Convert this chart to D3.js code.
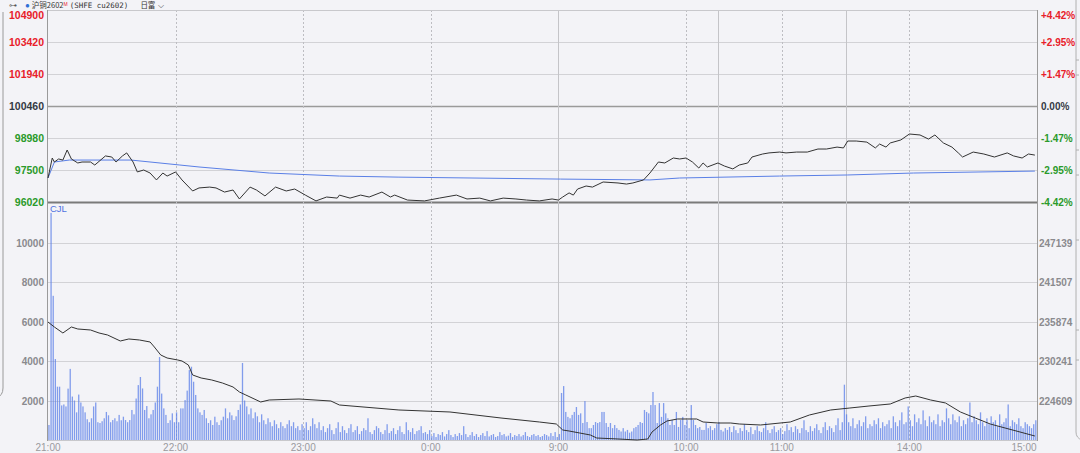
<!DOCTYPE html>
<html><head><meta charset="utf-8">
<script src="https://cdn.jsdelivr.net/npm/d3@7"></script>
<style>
html,body{margin:0;padding:0;background:#f3f3f7;}
svg{display:block;}
text{font-family:"Liberation Sans",Arial,sans-serif;}
</style></head>
<body>
<script>
// ---------- DATA ----------
const priceTicks = [104900,103420,101940,100460,98980,97500,96020];
const pctLabels = ["+4.42%","+2.95%","+1.47%","0.00%","-1.47%","-2.95%","-4.42%"];
const volTicks = [2000,4000,6000,8000,10000];
const oiTicks = [224609,230241,235874,241507,247139];
const timeLabels = ["21:00","22:00","23:00","0:00","9:00","10:00","11:00","14:00","15:00"];
const timeIdx = [0,60,120,180,240,300,345,405,465];
const gridDashed = [60,120,180,300,345,405];
const gridSolid = [240,315,375];

// price line: minute index and price
const priceMin = [0,2,3,5,7,9,11,14,16,20,22,27,30,32,35,37,40,42,45,48,51,54,56,60,63,68,71,76,79,83,87,90,95,98,102,107,112,116,121,126,131,136,137,142,147,151,157,161,163,169,177,184,192,197,203,208,214,220,225,231,237,240,242,245,247,249,253,256,261,268,272,275,280,283,287,290,294,297,300,303,306,308,310,315,318,322,325,329,331,336,339,344,347,352,357,362,366,371,374,376,380,385,389,391,394,396,401,405,410,414,417,421,425,428,430,435,440,445,451,454,458,461,464];
const priceVal = [97130,98055,97870,98010,97960,98425,98010,97825,97870,97870,97730,98150,98100,97870,98150,98290,97870,97410,97500,97360,97040,97360,97220,97410,97040,96530,96670,96710,96670,96480,96575,96160,96710,96575,96300,96710,96530,96620,96340,96070,96250,96200,96340,96200,96340,96250,96480,96250,96340,96110,96070,96200,96340,96160,96200,96070,96200,96160,96110,96070,96160,96110,96250,96440,96340,96620,96760,96710,96945,96900,96850,96900,97040,97360,97870,97825,98055,98010,98055,97870,97590,97825,97640,97825,97685,97550,97730,97825,98100,98240,98290,98330,98290,98330,98330,98470,98470,98560,98520,98840,98840,98790,98520,98700,98560,98750,98890,99165,99120,98930,99120,98750,98560,98290,98100,98330,98240,98100,98290,98150,98055,98240,98190];

// average price line
const avgMin = [0,3,10,39,62,71,104,137,165,241,283,297,344,376,407,464];
const avgVal = [97130,97870,97960,97960,97730,97640,97360,97220,97170,97080,97040,97130,97220,97270,97360,97450];

// open interest line
const oiMin = [0,3,7,11,14,20,24,28,34,38,43,48,50,53,56,61,63,66,68,72,77,82,87,90,93,100,104,118,133,137,165,189,213,231,239,242,245,250,255,258,268,277,282,284,288,291,296,300,305,308,315,321,325,335,349,358,368,377,386,396,403,408,415,422,429,436,443,450,457,464];
const oiVal = [235800,235090,234235,235090,234806,234663,234235,233950,233094,233380,233237,232952,232239,231098,230670,230385,230242,229672,228246,227818,227533,227105,226535,225822,225394,224396,224681,224824,224538,223968,223255,222970,222114,221544,221259,220403,220260,219975,219690,219262,219120,218977,219120,220118,221116,221686,221972,221972,221972,221544,221401,221401,221259,221116,221544,222542,223255,223540,223825,224111,224966,225251,224681,224253,222970,222114,221259,220688,220118,219547];

// volume per minute, by session
const volNight1 = [760,11500,7300,4100,2700,2700,1750,1800,1700,2600,3600,2200,2000,1400,2300,1900,1700,1400,1050,900,1100,1700,1900,900,860,950,1100,1420,1250,900,1010,1100,950,1270,1000,1180,1010,900,1010,1520,1300,2100,2780,3190,2610,1520,1720,1100,1300,1520,1900,2700,4200,2350,1600,1270,860,1000,1350,900];
const volNight2 = [1400,900,1600,1600,2020,2500,3540,3710,2950,2280,1600,1400,1270,1520,1100,860,1000,760,1180,900,760,1000,1180,1600,1100,1400,1250,1010,1200,1520,1800,3900,2000,1700,1300,1600,1100,1400,1200,900,1300,1000,800,1100,900,700,1000,800,600,900,700,600,800,1000,700,900,600,700,500,800];
const volNight3 = [600,900,500,700,1100,800,600,900,500,700,400,600,800,500,300,600,900,400,700,500,350,600,800,400,500,700,300,450,600,500,1100,400,300,500,700,600,400,300,500,800,350,450,600,300,500,700,400,300,900,500,400,600,300,450,500,700,350,400,300,500];
const volNight4 = [200,350,150,300,250,400,180,300,500,250,150,300,200,350,250,700,300,150,250,400,200,300,150,250,350,200,450,180,250,300,150,200,400,250,300,180,220,350,150,250,200,300,180,250,400,200,150,250,300,200,250,150,200,300,250,180,350,200,400,150];
const volMorning1 = [300,2380,2730,1420,1170,1100,1270,1420,1670,1270,1350,860,1970,910,600,600,760,910,860,910,1420,1420,860,660,860,600,760,600,510,430,600,430,510,370,430,600,660,760,910,860,1520,1420,1350,1770,2430,1770,860,1870,1170,1870,1350,1100,760,1010,760,1420,660,1010,1170,760,1010,600,1770,1010,760,600,660,510,510,860,600,700,500,600,800];
const volMorning2 = [910,510,430,600,510,660,400,700,500,350,600,450,800,500,400,650,300,500,700,450,400,600,900,500,350,550,700,400,500,600,300,450,800,500,650,400,700,550,350,600,1000,500,400,700,450,600,800,500,350,650,900,500,700,600,400,750,1100,500,900,2800];
const volAfternoon = [1300,900,700,1100,600,800,1000,700,900,1200,600,800,700,1000,800,1100,600,900,700,800,1000,600,1200,900,700,1000,1400,800,900,1700,1000,700,1300,900,1100,800,1500,1000,700,1200,900,1000,800,1300,700,1000,900,1600,1100,800,1300,1000,900,1200,700,1000,800,1100,1900,900,1200,1000,800,1400,900,700,1100,800,1200,900,1000,700,1300,800,900,1100,1800,700,1000,900,800,1100,700,600,900,800,700,600,800,1000];

// ---------- CHART ----------
const W = 1080, H = 453;
const L = 48, R = 1037, T = 10, MID = 202, B = 440;
const svg = d3.select("body").append("svg").attr("width", W).attr("height", H);
svg.append("rect").attr("width", W).attr("height", H).attr("fill", "#f3f3f7");

const x = d3.scaleLinear().domain([0, 465]).range([L, R]);
const yP = d3.scaleLinear().domain([96020, 104900]).range([MID, T]);
const yV = d3.scaleLinear().domain([0, 10000]).range([B, 242.5]);
const yO = d3.scaleLinear().domain([218977, 247139]).range([B, 242.5]);

const volumes = [].concat(volNight1, volNight2, volNight3, volNight4, volMorning1, volMorning2, volAfternoon);

// UI decorations at edges
svg.append("path").attr("d", "M3,12 L3,388 Q3,396 -4,398").attr("fill","none").attr("stroke","#9a9a9a").attr("stroke-width",1);
svg.append("path").attr("d", "M1076,0 L1076,432 Q1076,438 1082,440").attr("fill","none").attr("stroke","#b0b0b0").attr("stroke-width",1);
[60,75,150,175,240,330,360].forEach(v=>{
  svg.append("line").attr("x1",1076).attr("x2",1079).attr("y1",v).attr("y2",v).attr("stroke","#b0b0b0");
});

// horizontal grid - price
const gP = svg.append("g");
gP.selectAll("line").data(priceTicks).join("line")
  .attr("x1", L).attr("x2", R)
  .attr("y1", d => Math.round(yP(d)) + 0.5).attr("y2", d => Math.round(yP(d)) + 0.5)
  .attr("stroke", d => d === 100460 ? "#9a9a9a" : (d === 96020 ? "#7a7a7a" : "#d2d2d6"))
  .attr("stroke-width", d => d === 100460 ? 1.5 : (d === 96020 ? 2 : 1));

// horizontal grid - volume
svg.append("g").selectAll("line").data(volTicks).join("line")
  .attr("x1", L).attr("x2", R)
  .attr("y1", d => Math.round(yV(d)) + 0.5).attr("y2", d => Math.round(yV(d)) + 0.5)
  .attr("stroke", "#d2d2d6");

// vertical grid
svg.append("g").selectAll("line").data(gridDashed).join("line")
  .attr("x1", d => Math.round(x(d)) + 0.5).attr("x2", d => Math.round(x(d)) + 0.5)
  .attr("y1", T).attr("y2", B)
  .attr("stroke", "#bdbdc2").attr("stroke-dasharray", "2,2");
svg.append("g").selectAll("line").data(gridSolid).join("line")
  .attr("x1", d => Math.round(x(d)) + 0.5).attr("x2", d => Math.round(x(d)) + 0.5)
  .attr("y1", T).attr("y2", B)
  .attr("stroke", "#c4c4c8");

// frame
svg.append("line").attr("x1", L).attr("x2", R).attr("y1", T+0.5).attr("y2", T+0.5).attr("stroke", "#c8c8cc");
svg.append("line").attr("x1", L-0.5).attr("x2", L-0.5).attr("y1", T).attr("y2", B+1).attr("stroke", "#9a9a9a");
svg.append("line").attr("x1", R+0.5).attr("x2", R+0.5).attr("y1", T).attr("y2", B+1).attr("stroke", "#9a9a9a");
svg.append("line").attr("x1", L).attr("x2", R).attr("y1", B+0.5).attr("y2", B+0.5).attr("stroke", "#c8c8cc");

// volume bars
svg.append("g").selectAll("rect").data(volumes).join("rect")
  .attr("x", (d, i) => x(i) + 0.3)
  .attr("width", 1.3)
  .attr("y", d => yV(d))
  .attr("height", d => B - yV(d))
  .attr("fill", "#5b7fe8")
  .attr("opacity", 0.75);

// open interest line
const oiPts = oiMin.map((m, i) => [m, oiVal[i]]);
svg.append("path").datum(oiPts)
  .attr("d", d3.line().x(d => x(d[0])).y(d => yO(d[1])))
  .attr("fill", "none").attr("stroke", "#333").attr("stroke-width", 1);

// average line
const avgPts = avgMin.map((m, i) => [m, avgVal[i]]);
svg.append("path").datum(avgPts)
  .attr("d", d3.line().x(d => x(d[0])).y(d => yP(d[1])))
  .attr("fill", "none").attr("stroke", "#5a7fe6").attr("stroke-width", 1);

// price line
const pPts = priceMin.map((m, i) => [m, priceVal[i]]);
svg.append("path").datum(pPts)
  .attr("d", d3.line().x(d => x(d[0])).y(d => yP(d[1])))
  .attr("fill", "none").attr("stroke", "#333").attr("stroke-width", 1);

// left price labels
const colP = d => d > 100460 ? "#e8202a" : (d < 100460 ? "#2a9a2a" : "#333a44");
svg.append("g").selectAll("text").data(priceTicks).join("text")
  .attr("x", 44).attr("y", d => Math.max(yP(d), 15) + 4)
  .attr("text-anchor", "end").attr("font-size", 10.5).attr("font-weight", "bold")
  .attr("fill", colP).text(d => d);

// right percent labels
svg.append("g").selectAll("text").data(priceTicks).join("text")
  .attr("x", 1041).attr("y", (d, i) => Math.max(yP(d), 15) + 4)
  .attr("font-size", 10).attr("font-weight", "bold")
  .attr("fill", colP).text((d, i) => pctLabels[i]);

// volume labels
svg.append("g").selectAll("text").data(volTicks).join("text")
  .attr("x", 44).attr("y", d => yV(d) + 4)
  .attr("text-anchor", "end").attr("font-size", 10).attr("font-weight", "bold")
  .attr("fill", "#8a8a8e").text(d => d);

// OI labels
svg.append("g").selectAll("text").data(oiTicks).join("text")
  .attr("x", 1039).attr("y", d => yO(d) + 4)
  .attr("font-size", 10).attr("font-weight", "bold")
  .attr("fill", "#8a8a8e").text(d => d);

// time labels
svg.append("g").selectAll("text").data(timeLabels).join("text")
  .attr("x", (d, i) => Math.min(Math.max(x(timeIdx[i]), 44), 1024))
  .attr("y", 451)
  .attr("text-anchor", "middle").attr("font-size", 10)
  .attr("fill", "#9a9a9e").text(d => d);

// CJL label
svg.append("text").attr("x", 50).attr("y", 212).attr("font-size", 9.5)
  .attr("fill", "#4f72e0").text("CJL");

// header
const hdr = svg.append("text").attr("x", 9).attr("y", 8).attr("font-size", 8).attr("fill", "#333");
hdr.append("tspan").attr("fill", "#555").text("⊶");
hdr.append("tspan").attr("dx", 8).attr("fill", "#2f6fd6").text("●");
hdr.append("tspan").attr("dx", 2).attr("font-family", "Noto Sans CJK SC").attr("font-size", 7.5).text("沪铜2602");
hdr.append("tspan").attr("fill", "#e8202a").attr("font-size", 5).attr("dy", -2).text("M");
hdr.append("tspan").attr("dy", 2).attr("dx", 2).attr("font-family", "DejaVu Sans Mono").attr("font-size", 7.5).text("(SHFE cu2602)");
hdr.append("tspan").attr("dx", 12).attr("font-family", "Noto Sans CJK SC").attr("font-size", 7.5).text("日富");
hdr.append("tspan").attr("dx", 3).text("⌵");
</script>
</body></html>
